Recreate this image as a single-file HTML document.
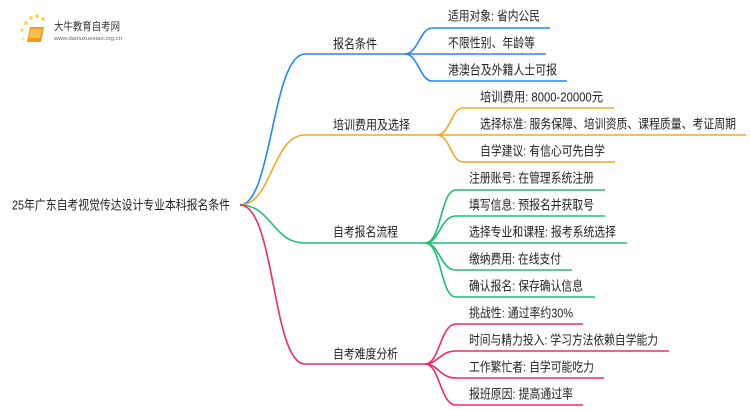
<!DOCTYPE html>
<html><head><meta charset="utf-8"><style>
html,body{margin:0;padding:0;background:#fff;}
svg{display:block;}
text{font-family:"Liberation Sans","Noto Sans CJK SC",sans-serif;font-size:13px;fill:#222;dominant-baseline:central;}
</style></head><body>
<svg width="750" height="410" viewBox="0 0 750 410" xmlns="http://www.w3.org/2000/svg">
<g>
<circle cx="26" cy="23" r="2" fill="#fbd36b"/><circle cx="31" cy="18" r="2" fill="#fbd36b"/><circle cx="37" cy="16" r="2" fill="#fbd36b"/><circle cx="43" cy="19" r="2" fill="#fbd36b"/><circle cx="22" cy="30" r="1.5" fill="#fbd36b"/><circle cx="23" cy="39" r="1.5" fill="#fde3a0"/>
<path d="M30 27 L44 27 L41 42 L27 42 Z" fill="#f39a1e"/>
<path d="M31 29 L42 29 L40 38 L29 38 Z" fill="#fbc04a"/>
<text x="54" y="27" style="font-size:11px;fill:#333" textLength="66" lengthAdjust="spacingAndGlyphs">大牛教育自考网</text>
<text x="54" y="39" style="font-size:5.5px;fill:#666" textLength="68" lengthAdjust="spacingAndGlyphs">www.daniuxuexiao.org.cn</text>
</g>
<g fill="none" stroke-width="1.6">
<path d="M240,205 C272,205 272,54 305,54 L405,54" stroke="#1e88ff"/>
<path d="M405,54 C418,54 420,28 432,28 L550,28" stroke="#1e88ff"/>
<path d="M405,54 L546,54" stroke="#1e88ff"/>
<path d="M405,54 C418,54 420,81 432,81 L567,81" stroke="#1e88ff"/>
<path d="M240,205 C272,205 272,135 305,135 L437,135" stroke="#f5a623"/>
<path d="M437,135 C450,135 451,108 463,108 L614,108" stroke="#f5a623"/>
<path d="M437,135 L746,135" stroke="#f5a623"/>
<path d="M437,135 C450,135 451,162 463,162 L615,162" stroke="#f5a623"/>
<path d="M240,205 C272,205 272,243 305,243 L425,243" stroke="#1dbf73"/>
<path d="M425,243 C442,243 440,190 456,190 L605,190" stroke="#1dbf73"/>
<path d="M425,243 C440,243 440,216 456,216 L605,216" stroke="#1dbf73"/>
<path d="M425,243 L627,243" stroke="#1dbf73"/>
<path d="M425,243 C440,243 440,270 456,270 L572,270" stroke="#1dbf73"/>
<path d="M425,243 C442,243 440,297 456,297 L595,297" stroke="#1dbf73"/>
<path d="M240,205 C275,205 272,364 305,364 L425,364" stroke="#f0286e"/>
<path d="M425,364 C440,364 440,324 456,324 L583,324" stroke="#f0286e"/>
<path d="M425,364 C438,364 440,351 456,351 L669,351" stroke="#f0286e"/>
<path d="M425,364 C438,364 440,378 456,378 L604,378" stroke="#f0286e"/>
<path d="M425,364 C440,364 440,405 456,405 L583,405" stroke="#f0286e"/>
</g>
<text x="12" y="205" textLength="218" lengthAdjust="spacingAndGlyphs">25年广东自考视觉传达设计专业本科报名条件</text>
<text x="333" y="44" textLength="44" lengthAdjust="spacingAndGlyphs">报名条件</text>
<text x="333" y="125" textLength="77" lengthAdjust="spacingAndGlyphs">培训费用及选择</text>
<text x="333" y="232" textLength="65" lengthAdjust="spacingAndGlyphs">自考报名流程</text>
<text x="333" y="354" textLength="65" lengthAdjust="spacingAndGlyphs">自考难度分析</text>
<text x="448" y="16" textLength="92" lengthAdjust="spacingAndGlyphs">适用对象: 省内公民</text>
<text x="448" y="43" textLength="87" lengthAdjust="spacingAndGlyphs">不限性别、年龄等</text>
<text x="448" y="70" textLength="109" lengthAdjust="spacingAndGlyphs">港澳台及外籍人士可报</text>
<text x="480" y="97" textLength="123" lengthAdjust="spacingAndGlyphs">培训费用: 8000-20000元</text>
<text x="480" y="124" textLength="256" lengthAdjust="spacingAndGlyphs">选择标准: 服务保障、培训资质、课程质量、考证周期</text>
<text x="480" y="151" textLength="125" lengthAdjust="spacingAndGlyphs">自学建议: 有信心可先自学</text>
<text x="469" y="178" textLength="125" lengthAdjust="spacingAndGlyphs">注册账号: 在管理系统注册</text>
<text x="469" y="205" textLength="125" lengthAdjust="spacingAndGlyphs">填写信息: 预报名并获取号</text>
<text x="469" y="232" textLength="147" lengthAdjust="spacingAndGlyphs">选择专业和课程: 报考系统选择</text>
<text x="469" y="259" textLength="92" lengthAdjust="spacingAndGlyphs">缴纳费用: 在线支付</text>
<text x="469" y="286" textLength="114" lengthAdjust="spacingAndGlyphs">确认报名: 保存确认信息</text>
<text x="469" y="313" textLength="104" lengthAdjust="spacingAndGlyphs">挑战性: 通过率约30%</text>
<text x="469" y="340" textLength="189" lengthAdjust="spacingAndGlyphs">时间与精力投入: 学习方法依赖自学能力</text>
<text x="469" y="367" textLength="125" lengthAdjust="spacingAndGlyphs">工作繁忙者: 自学可能吃力</text>
<text x="469" y="394" textLength="104" lengthAdjust="spacingAndGlyphs">报班原因: 提高通过率</text>
</svg>
</body></html>
